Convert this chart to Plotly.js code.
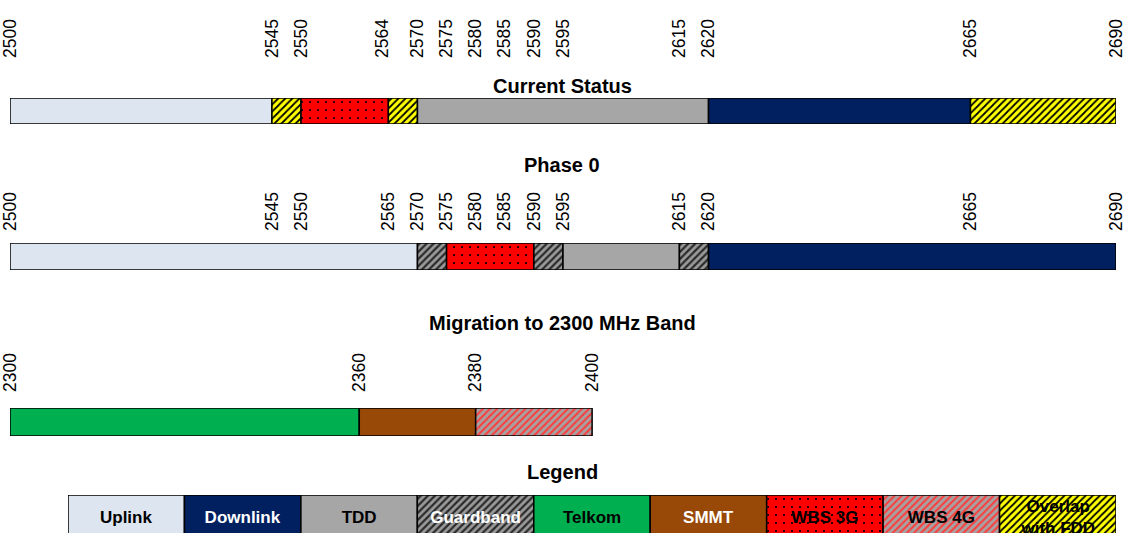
<!DOCTYPE html>
<html>
<head>
<meta charset="utf-8">
<script src="https://cdn.plot.ly/plotly-3.0.1.min.js"></script>
<style>html,body{margin:0;padding:0;background:#fff;}#chart{width:1125px;height:533px;}</style>
</head>
<body>
<div id="chart"></div>
<script>
// ---- Data ----
const statusStart = [2500, 2545, 2550, 2565, 2570, 2620, 2665];
const statusEnd   = [2545, 2550, 2565, 2570, 2620, 2665, 2690];
const statusType  = ['Uplink', 'Overlap with FDD', 'WBS 3G', 'Overlap with FDD', 'TDD', 'Downlink', 'Overlap with FDD'];
const statusTicks = [2500, 2545, 2550, 2564, 2570, 2575, 2580, 2585, 2590, 2595, 2615, 2620, 2665, 2690];

const phase0Start = [2500, 2570, 2575, 2590, 2595, 2615, 2620];
const phase0End   = [2570, 2575, 2590, 2595, 2615, 2620, 2690];
const phase0Type  = ['Uplink', 'Guardband', 'WBS 3G', 'Guardband', 'TDD', 'Guardband', 'Downlink'];
const phase0Ticks = [2500, 2545, 2550, 2565, 2570, 2575, 2580, 2585, 2590, 2595, 2615, 2620, 2665, 2690];

const migrStart = [2300, 2360, 2380];
const migrEnd   = [2360, 2380, 2400];
const migrType  = ['Telkom', 'SMMT', 'WBS 4G'];
const migrTicks = [2300, 2360, 2380, 2400];

const legendNames = ['Uplink', 'Downlink', 'TDD', 'Guardband', 'Telkom', 'SMMT', 'WBS 3G', 'WBS 4G', 'Overlap with FDD'];
const legendText  = ['Uplink', 'Downlink', 'TDD', 'Guardband', 'Telkom', 'SMMT', 'WBS 3G', 'WBS 4G', 'Overlap<br>with FDD'];

const titles = ['Current Status', 'Phase 0', 'Migration to 2300 MHz Band', 'Legend'];

// ---- Styles ----
const styles = {
  'Uplink':           {bg: '#dde5f0', fg: '#000000', shape: '',  size: 6, sol: 0.3, txt: '#000000'},
  'Downlink':         {bg: '#002060', fg: '#000000', shape: '',  size: 6, sol: 0.3, txt: '#ffffff'},
  'TDD':              {bg: '#a6a6a6', fg: '#000000', shape: '',  size: 6, sol: 0.3, txt: '#000000'},
  'Guardband':        {bg: '#9a9a9a', fg: '#2a2a2a', shape: '/', size: 5, sol: 0.45, txt: '#ffffff'},
  'Telkom':           {bg: '#00b050', fg: '#000000', shape: '',  size: 6, sol: 0.3, txt: '#000000'},
  'SMMT':             {bg: '#984807', fg: '#000000', shape: '',  size: 6, sol: 0.3, txt: '#ffffff'},
  'WBS 3G':           {bg: '#ff0000', fg: '#000000', shape: '.', size: 8, sol: 0.06, txt: '#000000'},
  'WBS 4G':           {bg: '#a8a0a0', fg: '#ff3a3a', shape: '/', size: 5, sol: 0.4, txt: '#000000'},
  'Overlap with FDD': {bg: '#ffff00', fg: '#000000', shape: '/', size: 5, sol: 0.35, txt: '#000000'}
};

const FONT = 'Liberation Sans, Arial, sans-serif';
const W = 1125, H = 533;
const py = p => (H - p) / H;   // pixel row -> paper y
const px = p => p / W;         // pixel col -> paper x

function markerFor(t) {
  const s = styles[t];
  const m = {color: s.bg, line: {color: '#000000', width: 1.5}};
  if (s.shape) {
    m.pattern = {fillmode: 'overlay', shape: s.shape, fgcolor: s.fg, fgopacity: 1,
                 size: s.size, solidity: s.sol};
  }
  return m;
}

const traces = [];
function addRow(starts, ends, types, xa, ya) {
  starts.forEach((s, i) => {
    traces.push({
      type: 'bar', orientation: 'h',
      y: [0], base: [s], x: [ends[i] - s], width: 1,
      xaxis: xa, yaxis: ya,
      marker: markerFor(types[i]),
      hoverinfo: 'skip', showlegend: false
    });
  });
}
addRow(statusStart, statusEnd, statusType, 'x', 'y');
addRow(phase0Start, phase0End, phase0Type, 'x2', 'y2');
addRow(migrStart, migrEnd, migrType, 'x3', 'y3');

legendNames.forEach((t, i) => {
  traces.push({
    type: 'bar',
    x: [i], y: [1], width: 1,
    xaxis: 'x4', yaxis: 'y4',
    text: [legendText[i]],
    textposition: 'inside',
    insidetextanchor: 'middle',
    constraintext: 'none',
    textfont: {family: FONT, size: 17, weight: 'bold', color: styles[t].txt},
    marker: markerFor(t),
    hoverinfo: 'skip', showlegend: false
  });
});

const tickFont = {family: FONT, size: 17.5, color: '#000000'};
function xTop(range, ticks, pos) {
  return {
    domain: [px(10), px(1116)], range: range,
    side: 'top', anchor: 'free', position: pos,
    tickmode: 'array', tickvals: ticks, ticktext: ticks.map(String),
    tickangle: -90, tickfont: tickFont, ticks: '',
    ticklabeloverflow: 'allow',
    showgrid: false, zeroline: false, showline: false, fixedrange: true
  };
}
function yHidden(d0, d1, range) {
  return {domain: [d0, d1], range: range, showticklabels: false, showgrid: false,
          zeroline: false, showline: false, ticks: '', fixedrange: true};
}

const titleFont = {family: FONT, size: 20, color: '#000000'};
const titleY = [86, 165, 323, 472];
const annotations = titles.map((t, i) => ({
  text: '<b>' + t + '</b>', xref: 'paper', yref: 'paper',
  x: px(562), y: py(titleY[i]), xanchor: 'center', yanchor: 'middle',
  showarrow: false, font: titleFont
}));

const layout = {
  width: W, height: H,
  margin: {l: 0, r: 0, t: 0, b: 0},
  paper_bgcolor: '#ffffff', plot_bgcolor: 'rgba(0,0,0,0)',
  bargap: 0, barmode: 'overlay',
  showlegend: false,
  xaxis:  xTop([2500, 2690], statusTicks, py(58)),
  xaxis2: xTop([2500, 2690], phase0Ticks, py(231)),
  xaxis3: xTop([2300, 2490], migrTicks, py(392)),
  xaxis4: {domain: [px(68), px(1116)], range: [-0.5, 8.5],
           showticklabels: false, showgrid: false, zeroline: false, showline: false, ticks: '', fixedrange: true},
  yaxis:  yHidden(py(124), py(98), [-0.5, 0.5]),
  yaxis2: yHidden(py(270), py(243), [-0.5, 0.5]),
  yaxis3: yHidden(py(436), py(408), [-0.5, 0.5]),
  yaxis4: Object.assign(yHidden(0, py(495), [0.16, 1]), {anchor: 'x4'}),
  annotations: annotations
};
layout.yaxis.anchor = 'x';
layout.yaxis2.anchor = 'x2';
layout.yaxis3.anchor = 'x3';

Plotly.newPlot('chart', traces, layout, {staticPlot: true, displayModeBar: false});
</script>
</body>
</html>
